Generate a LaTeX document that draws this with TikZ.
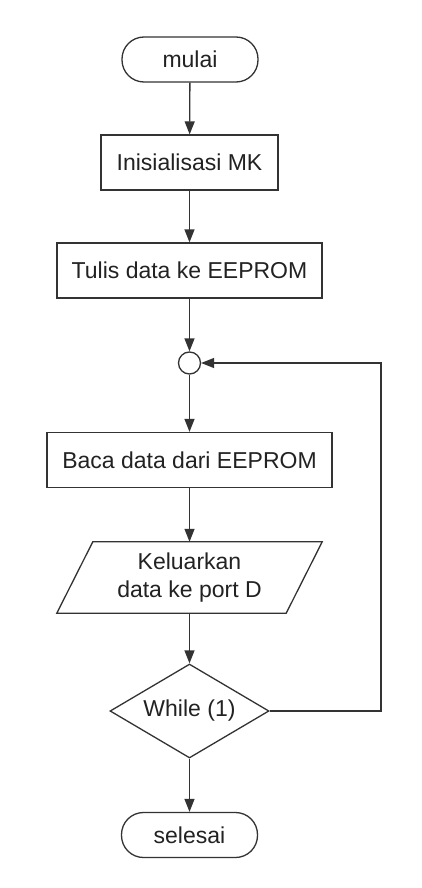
\documentclass[tikz,border=0pt]{standalone}
\usepackage{fontspec}
\setmainfont{Liberation Sans}
\usetikzlibrary{arrows.meta,shapes.geometric}
\definecolor{ln}{HTML}{333333}
\definecolor{tx}{HTML}{222222}
\tikzset{
  base/.style={draw=ln, line width=1.3pt, inner sep=0pt, text=tx, font=\fontsize{23}{28}\selectfont, align=center},
  term/.style={base, rectangle, rounded corners=22pt, minimum width=136pt, minimum height=45pt},
  proc/.style={base, rectangle, minimum height=55pt},
  dec/.style={base, diamond, minimum width=159pt, minimum height=94pt, aspect=1.7},
  junc/.style={base, circle, minimum size=22pt},
  flow/.style={draw=ln, line width=1.3pt, -{Triangle[length=13pt,width=10pt]}},
  plain/.style={draw=ln, line width=1.3pt}
}
\begin{document}
\begin{tikzpicture}[x=1pt,y=-1pt]
\path[use as bounding box, fill=white] (0,0) rectangle (422,888);
\node[term] (mulai) at (190,59.5) {mulai};
\node[proc, minimum width=177pt] (init) at (189.5,162.5) {Inisialisasi MK};
\node[proc, minimum width=265pt] (tulis) at (189.5,270.5) {Tulis data ke EEPROM};
\node[junc] (j) at (189.5,363) {};
\node[proc, minimum width=285pt] (baca) at (189.5,460) {Baca data dari EEPROM};
\node[inner sep=0pt, minimum width=229pt, minimum height=71pt, text=tx, align=center, font=\fontsize{23}{28}\selectfont] (out) at (189.5,577.5) {Keluarkan\\data ke port D};
\draw[plain] ([xshift=18pt]out.north west) -- ([xshift=18pt]out.north east) -- ([xshift=-18pt]out.south east) -- ([xshift=-18pt]out.south west) -- cycle;
\node[dec] (w) at (189.5,711) {While (1)};
\node[term] (selesai) at (189.5,835) {selesai};
\coordinate (c1) at (381,711);
\coordinate (c2) at (381,363);
\draw[flow] (mulai) -- (init);
\draw[flow] (init) -- (tulis);
\draw[flow] (tulis) -- (j);
\draw[flow] (j) -- (baca);
\draw[flow] (baca) -- (out);
\draw[flow] (out) -- (w);
\draw[flow] (w) -- (selesai);
\draw[flow] (w.east) -- (c1) -- (c2) -- (j.east);
\end{tikzpicture}
\end{document}
